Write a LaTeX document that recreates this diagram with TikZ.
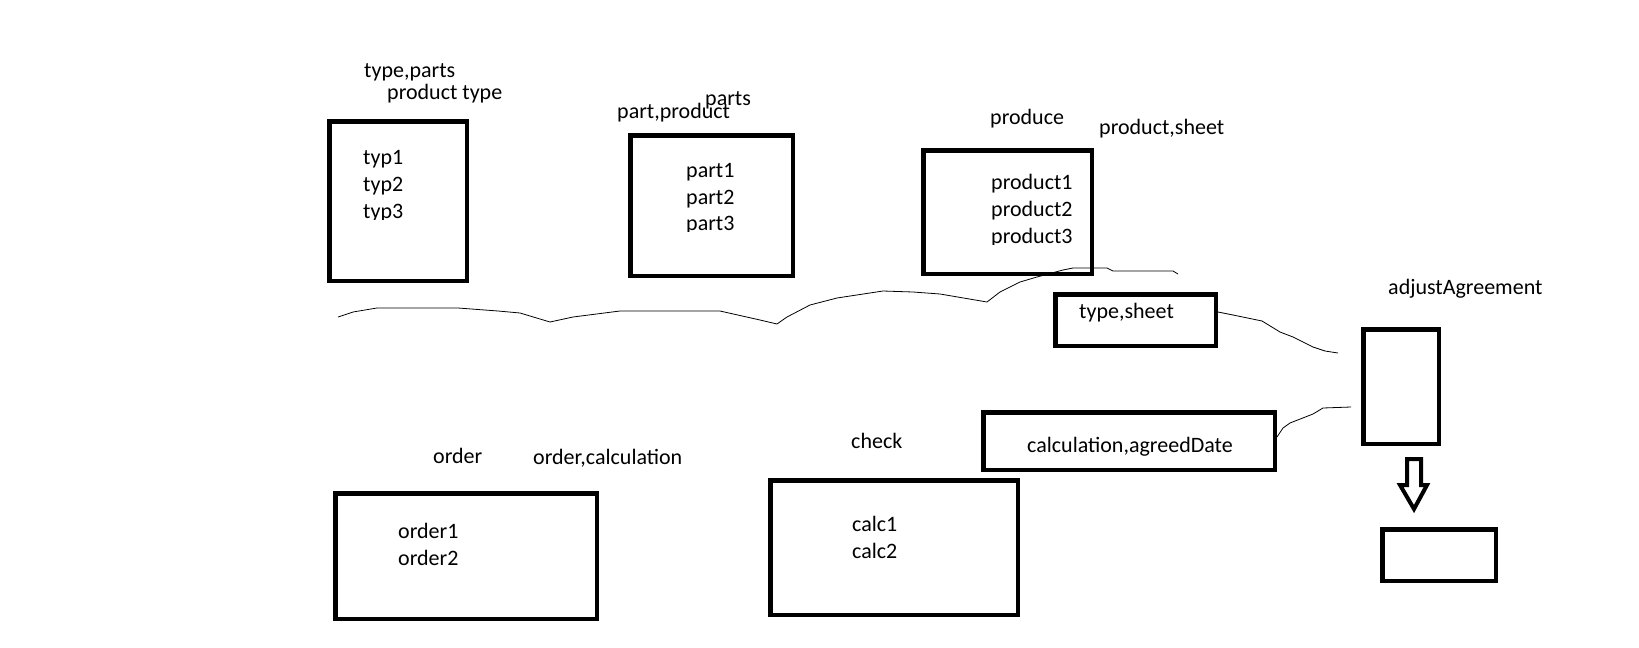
\documentclass[tikz,border=0pt]{standalone}
\usepackage{fontspec}
\setmainfont{Carlito}
\usepackage{tikz}
\usetikzlibrary{positioning,calc}
\tikzstyle{box} = [rectangle, draw, line width=4.5pt, inner sep=0pt]
\tikzstyle{txt} = [anchor=base west, inner sep=0pt, font=\fontsize{22}{26}\selectfont]
\tikzstyle{scribble} = [line width=0.8pt, line join=round]

\begin{document}
\begin{tikzpicture}[x=1pt, y=-1pt]
    \useasboundingbox (0,0) rectangle (1639,648);
    \node[box, minimum width=137.5pt, minimum height=159.5pt] (typBox) at (398,201) {};
    \node[box, minimum width=162.5pt, minimum height=140.5pt] (partBox) at (711.5,205.5) {};
    \node[box, minimum width=168.5pt, minimum height=123.5pt] (productBox) at (1007.5,212) {};
    \node[box, minimum width=160.5pt, minimum height=51.5pt] (sheetBox) at (1135.5,320) {};
    \node[box, minimum width=75.5pt, minimum height=114.5pt] (adjustBox) at (1401,386.5) {};
    \node[box, minimum width=113.5pt, minimum height=51.5pt] (resultBox) at (1439,555) {};
    \node[box, minimum width=261.5pt, minimum height=125.5pt] (orderBox) at (466,556) {};
    \node[box, minimum width=247.5pt, minimum height=134.5pt] (checkBox) at (894,547.5) {};
    \node[box, minimum width=291.5pt, minimum height=57.5pt] (calcBox) at (1129,441) {};
    \node[txt] (typeParts) at (364,77) {type,parts};
    \node[txt] (productType) at (387,99) {product type};
    \node[txt] (typ1) at (363,164) {typ1};
    \node[txt] (typ2) at (363,191) {typ2};
    \begin{scope}
        \clip (0,0) rectangle (1639,219);
        \node[txt] (typ3) at (363,218) {typ3};
    \end{scope}
    \node[txt] (parts) at (705,105) {parts};
    \node[txt] (partProduct) at (617,118) {part,product};
    \node[txt] (part1) at (686,177) {part1};
    \node[txt] (part2) at (686,204) {part2};
    \begin{scope}
        \clip (0,0) rectangle (1639,231);
        \node[txt] (part3) at (686,230) {part3};
    \end{scope}
    \node[txt] (produce) at (990,124) {produce};
    \node[txt] (productSheet) at (1099,134) {product,sheet};
    \node[txt] (product1) at (991,189) {product1};
    \node[txt] (product2) at (991,216) {product2};
    \begin{scope}
        \clip (0,0) rectangle (1639,244);
        \node[txt] (product3) at (991,243) {product3};
    \end{scope}
    \node[txt] (typeSheet) at (1079,318) {type,sheet};
    \node[txt] (adjust) at (1388,294) {adjustAgreement};
    \node[txt] (order) at (433,463) {order};
    \node[txt] (orderCalc) at (533,464) {order,calculation};
    \node[txt] (order1) at (398,538) {order1};
    \node[txt] (order2) at (398,565) {order2};
    \node[txt] (check) at (851,448) {check};
    \node[txt] (calc1) at (852,531) {calc1};
    \node[txt] (calc2) at (852,558) {calc2};
    \node[txt] (calcDate) at (1027,452) {calculation,agreedDate};
    \draw[scribble] (338,317) -- (353,312) -- (377,308) -- (458,308) -- (498,311) -- (520,313)
        -- (550,322) -- (573,317) -- (620,311) -- (720,311) -- (760,320) -- (777,324)
        -- (787,317) -- (810,305) -- (837,298) -- (883,291) -- (913,292) -- (940,294)
        -- (987,302) -- (1000,292) -- (1020,282) -- (1037,277) -- (1063,270) -- (1073,268)
        -- (1107,268) -- (1113,271) -- (1173,271) -- (1178,274);
    \coordinate (adjIn1) at (1338,353);
    \coordinate (adjIn2) at (1351,407);
    \draw[scribble] ([yshift=8pt]sheetBox.east) -- (1233,315) -- (1262,321) -- (1280,332)
        -- (1293,337) -- (1313,347) -- (1325,351) -- (adjIn1);
    \draw[scribble] ([yshift=4pt]calcBox.east) -- (1283,428) -- (1290,423) -- (1313,414)
        -- (1323,408) -- (adjIn2);
    \draw[line width=4pt] (1407,459) -- (1421,459) -- (1421,485) -- (1427,485) -- (1414,509)
        -- (1400,485) -- (1407,485) -- cycle;
\end{tikzpicture}
\end{document}
